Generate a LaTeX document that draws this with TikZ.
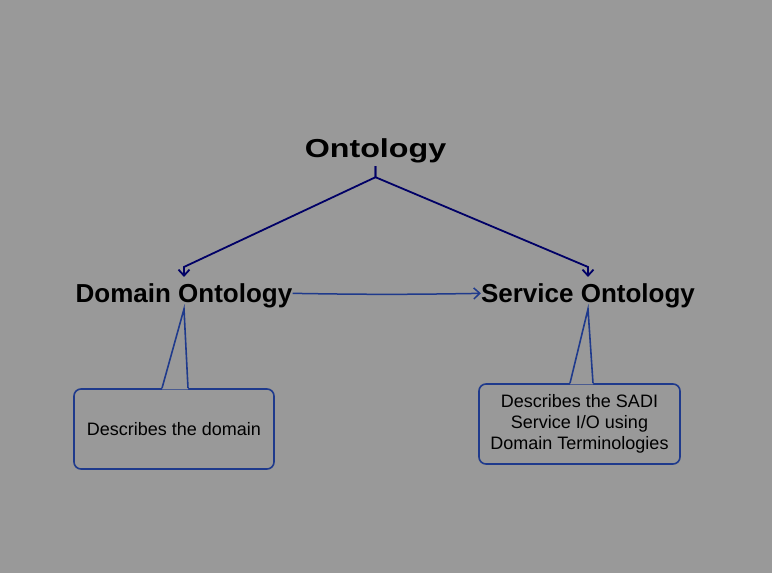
\documentclass[tikz,border=0pt]{standalone}
\usepackage{fontspec}
\setmainfont{Liberation Sans}
\usetikzlibrary{arrows.meta,calc}
\definecolor{bg}{HTML}{999999}
\definecolor{navyline}{HTML}{000066}
\definecolor{blueline}{HTML}{1F3A8C}
\begin{document}
\begin{tikzpicture}[x=1pt,y=-1pt,
  titletext/.style={font=\bfseries\fontsize{26}{30}\selectfont, inner xsep=0pt, inner ysep=3.5pt, anchor=base},
  headtext/.style={font=\bfseries\fontsize{26}{30}\selectfont, inner xsep=0pt, inner ysep=6pt, anchor=base},
  callbox/.style={draw=blueline, line width=1.6pt, rounded corners=7pt, minimum width=200pt, minimum height=80pt, align=center, inner sep=0pt, font=\fontsize{18}{21}\selectfont},
  navyarrow/.style={draw=navyline, line width=1.8pt, -{Straight Barb[length=6pt,width=11pt]}},
  bluearrow/.style={draw=blueline, line width=1.5pt, -{Straight Barb[length=6pt,width=11pt]}},
  callline/.style={draw=blueline, line width=1.6pt, line join=miter}
]
\fill[bg] (0,0) rectangle (772,573);
\useasboundingbox (0,0) rectangle (772,573);

\node[titletext] (ont) at (375.5,157) {\scalebox{1.24}[1]{Ontology}};
\node[headtext] (dom) at (184,302) {Domain Ontology};
\node[headtext] (serv) at (588,302) {Service Ontology};

\node[callbox] (domd) at (174,429) {Describes the domain};
\node[callbox, minimum width=201pt] (servd) at (579.5,424) {Describes the SADI\\Service I/O using\\Domain Terminologies};

\coordinate (domtip) at (184,309);
\coordinate (servtip) at (588,309);

% connectors from Ontology
\draw[navyarrow] (ont.south) -- ++(0,11) -- ([yshift=10pt]dom.north) -- (dom.north);
\draw[navyarrow] (ont.south) -- ++(0,11) -- ([yshift=10pt]serv.north) -- (serv.north);

% Domain -> Service
\draw[bluearrow] ([yshift=2pt]dom.east) to[bend right=1] ([yshift=2pt]serv.west);

% callout pointers
\fill[bg] ([xshift=-12pt,yshift=-1.2pt]domd.north) -- ([xshift=-12pt]domd.north) -- (domtip) -- ([xshift=14pt]domd.north) -- ([xshift=14pt,yshift=-1.2pt]domd.north) -- cycle;
\draw[callline] ([xshift=-12pt]domd.north) -- (domtip) -- ([xshift=14pt]domd.north);
\fill[bg] ([xshift=-9.5pt,yshift=-1.2pt]servd.north) -- ([xshift=-9.5pt]servd.north) -- (servtip) -- ([xshift=13.5pt]servd.north) -- ([xshift=13.5pt,yshift=-1.2pt]servd.north) -- cycle;
\draw[callline] ([xshift=-9.5pt]servd.north) -- (servtip) -- ([xshift=13.5pt]servd.north);
\end{tikzpicture}
\end{document}
